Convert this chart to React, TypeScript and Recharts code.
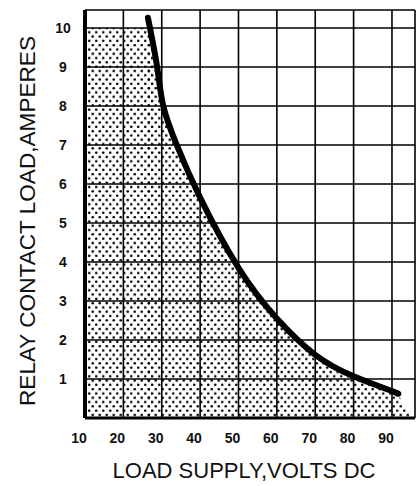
import React from "react";
import { ComposedChart, Area, Line, XAxis, YAxis, CartesianGrid, Label } from "recharts";

// Derating curve: load supply volts DC vs relay contact load amperes
const curveVolts = [26.4, 28.8, 30.4, 33.9, 40, 50, 60, 70, 80, 90, 91.5];
const curveAmps = [10.26, 9.0, 8.0, 7.0, 5.65, 3.85, 2.55, 1.62, 1.07, 0.69, 0.62];

// Shaded region pieces: flat 10 A cap on the left, tail past the curve end
const capVolts = [10, 27.4];
const capAmps = [10, 10];
const tailVolts = [91.5, 93.4, 95.0];
const tailAmps = [0.62, 0.3, 0];

const xTicks = [10, 20, 30, 40, 50, 60, 70, 80, 90];
const yTicks = [1, 2, 3, 4, 5, 6, 7, 8, 9, 10];

const xTitle = "LOAD SUPPLY,VOLTS DC";
const yTitle = "RELAY CONTACT LOAD,AMPERES";

const curveData = curveVolts.map((v, i) => ({ v, a: curveAmps[i] }));
const capData = capVolts.map((v, i) => ({ v, a: capAmps[i] }));
const tailData = tailVolts.map((v, i) => ({ v, a: tailAmps[i] }));

const FONT = "'Liberation Sans', Arial, Helvetica, sans-serif";

const XTick = (props: any) => {
  const { x, y, payload } = props;
  return (
    <text x={x} y={y} dx={-6} dy="0.71em" textAnchor="middle" fontFamily={FONT} fontSize={14} fontWeight="bold" fill="#111">
      {payload.value}
    </text>
  );
};

const YTick = (props: any) => {
  const { x, y, payload } = props;
  return (
    <text x={x} y={y} dy="0.36em" textAnchor="middle" fontFamily={FONT} fontSize={14} fontWeight="bold" fill="#111">
      {payload.value}
    </text>
  );
};

const XTitle = (props: any) => {
  const vb = props.viewBox;
  return (
    <text x={vb.x + vb.width / 2 - 6} y={vb.y + vb.height - 8} textAnchor="middle" fontFamily={FONT} fontSize={22} fill="#111">
      {xTitle}
    </text>
  );
};

const YTitle = (props: any) => {
  const vb = props.viewBox;
  const cx = vb.x + 27.5;
  const cy = vb.y + vb.height / 2 + 7;
  return (
    <text x={cx} y={cy} transform={`rotate(-90, ${cx}, ${cy})`} textAnchor="middle" dominantBaseline="central" fontFamily={FONT} fontSize={22.6} fill="#111">
      {yTitle}
    </text>
  );
};

export default function App() {
  return (
    <div style={{ position: "absolute", left: 0, top: 0, background: "#fff" }}>
      <ComposedChart width={420} height={486} margin={{ top: 10, right: 5, bottom: 0, left: 0 }}>
        <defs>
          <pattern id="dots" width="7" height="8.6" patternUnits="userSpaceOnUse">
            <circle cx="1.75" cy="2.15" r="1.3" fill="#000" />
            <circle cx="5.25" cy="6.45" r="1.3" fill="#000" />
          </pattern>
        </defs>
        <CartesianGrid stroke="#000" strokeWidth={1.6} strokeOpacity={1} />
        <XAxis
          type="number"
          dataKey="v"
          domain={[10, 96]}
          ticks={xTicks}
          allowDataOverflow
          height={68}
          tickSize={0}
          tickMargin={15}
          tickLine={false}
          axisLine={{ stroke: "#000", strokeWidth: 3 }}
          tick={<XTick />}
        >
          <Label content={<XTitle />} position="insideBottom" />
        </XAxis>
        <YAxis
          type="number"
          dataKey="a"
          domain={[0, 10.46]}
          ticks={yTicks}
          allowDataOverflow
          width={85}
          tickSize={0}
          tickMargin={22}
          tickLine={false}
          axisLine={{ stroke: "#000", strokeWidth: 4 }}
          tick={<YTick />}
        >
          <Label content={<YTitle />} position="insideLeft" />
        </YAxis>
        <Area data={capData} dataKey="a" type="linear" stroke="none" fill="url(#dots)" fillOpacity={1} isAnimationActive={false} baseValue={0} />
        <Area data={curveData} dataKey="a" type="natural" stroke="none" fill="url(#dots)" fillOpacity={1} isAnimationActive={false} baseValue={0} />
        <Area data={tailData} dataKey="a" type="linear" stroke="none" fill="url(#dots)" fillOpacity={1} isAnimationActive={false} baseValue={0} />
        <Line
          data={curveData}
          dataKey="a"
          type="natural"
          stroke="#000"
          strokeWidth={6}
          strokeLinecap="round"
          dot={false}
          activeDot={false}
          isAnimationActive={false}
        />
      </ComposedChart>
    </div>
  );
}
